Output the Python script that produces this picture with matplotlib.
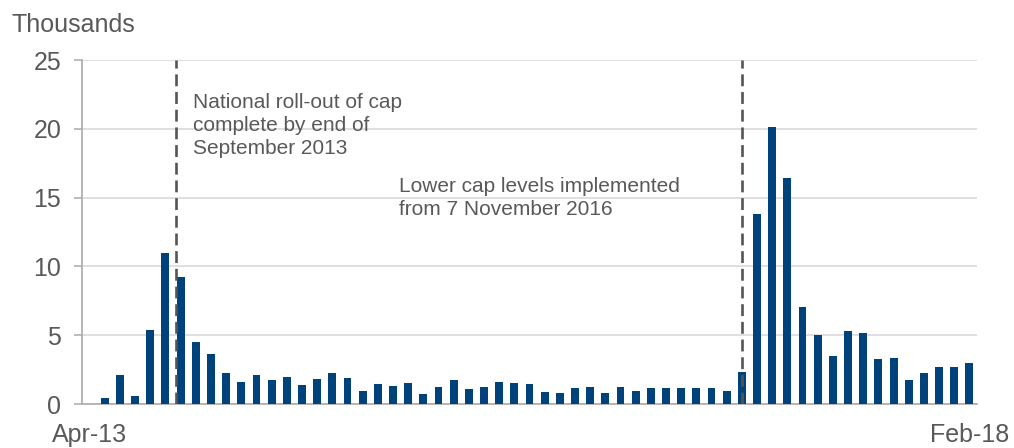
import matplotlib.pyplot as plt

plt.rcParams['font.family'] = ['Liberation Sans', 'DejaVu Sans']

# monthly counts, thousands, Apr-13 .. Feb-18
months = ['Apr-13'] + [''] * 57 + ['Feb-18']
values = [0.0, 0.4, 2.1, 0.6, 5.4, 10.95, 9.25, 4.5, 3.6, 2.23,
          1.57, 2.08, 1.72, 1.96, 1.35, 1.79, 2.25, 1.89, 0.92, 1.45,
          1.31, 1.5, 0.73, 1.21, 1.74, 1.09, 1.26, 1.62, 1.55, 1.43,
          0.85, 0.82, 1.14, 1.26, 0.82, 1.24, 0.97, 1.14, 1.16, 1.14,
          1.14, 1.17, 0.92, 2.33, 13.78, 20.13, 16.42, 7.07, 5.01, 3.49,
          5.28, 5.14, 3.27, 3.32, 1.74, 2.28, 2.67, 2.71, 2.96]
y_ticks = [0, 5, 10, 15, 20, 25]

# event markers (category positions) and their notes
event_pos = [5.7, 43.0]
note_cap = 'National roll-out of cap\ncomplete by end of\nSeptember 2013'
note_lower = 'Lower cap levels implemented\nfrom 7 November 2016'

TXT = '#595959'
BAR = '#00427A'

fig = plt.figure(figsize=(10.14, 4.48), dpi=100)
ax = fig.add_axes([82 / 1014, 1 - 404 / 448, 895 / 1014, 344 / 448])

x = list(range(len(values)))
ax.bar(x, values, width=0.52, color=BAR, zorder=3)

for p in event_pos:
    ax.axvline(p, color='#555555', lw=1.9, dashes=(4.5, 2.2), zorder=4)

ax.set_xlim(-0.5, len(values) - 0.5)
ax.set_ylim(0, 25)
ax.set_yticks(y_ticks)
ax.set_yticklabels([str(t) for t in y_ticks])
ax.set_xticks([0, len(values) - 1])
ax.set_xticklabels([months[0], months[-1]])

ax.grid(axis='y', color='#DCDCDC', lw=1.3, zorder=0)
ax.set_axisbelow(True)
for s in ['top', 'right']:
    ax.spines[s].set_visible(False)
for s in ['left', 'bottom']:
    ax.spines[s].set_color('#B0B0B0')
    ax.spines[s].set_linewidth(1.3)

ax.tick_params(axis='y', length=6, width=1.2, color='#B0B0B0', pad=9,
               labelsize=18, labelcolor=TXT)
ax.tick_params(axis='x', length=0, pad=14, labelsize=18, labelcolor=TXT)

ax.text(6.8, 22.6, note_cap, fontsize=15, color=TXT, va='top', ha='left',
        linespacing=1.28)
ax.text(20.4, 16.5, note_lower, fontsize=15, color=TXT, va='top', ha='left',
        linespacing=1.28)

fig.text(12 / 1014, 1 - 32 / 448, 'Thousands', fontsize=18, color=TXT,
         va='baseline', ha='left')

plt.savefig('out.png', dpi=100)
